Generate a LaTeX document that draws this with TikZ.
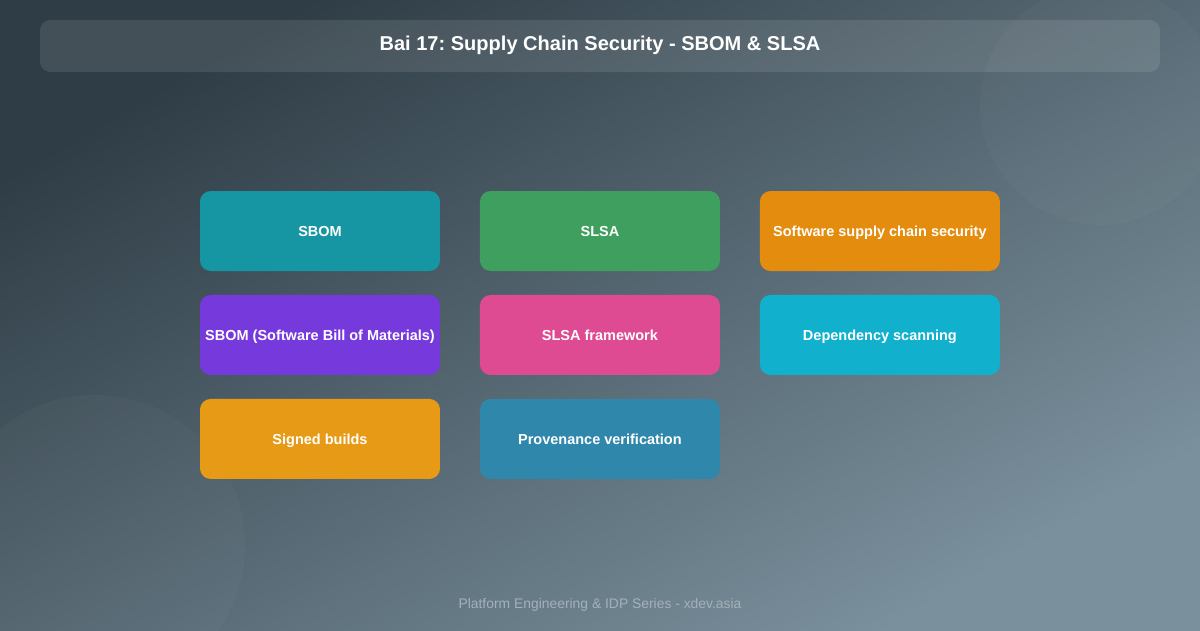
\documentclass[tikz,border=0pt]{standalone}
\usepackage{fontspec}
\setmainfont{Liberation Sans}
\frenchspacing
\usetikzlibrary{positioning}

\definecolor{bgdark}{HTML}{2F3D46}
\definecolor{bglight}{HTML}{7A909C}
\definecolor{cteal}{HTML}{1695A3}
\definecolor{cgreen}{HTML}{3F9F5F}
\definecolor{corange}{HTML}{E38C0E}
\definecolor{cpurple}{HTML}{7539DC}
\definecolor{cpink}{HTML}{DE4B92}
\definecolor{ccyan}{HTML}{11B0CD}
\definecolor{camber}{HTML}{E69A16}
\definecolor{cblue}{HTML}{2F87AB}
\definecolor{footgray}{HTML}{A3B1BA}

\begin{document}
\begin{tikzpicture}[
		x=0.02cm, y=-0.02cm,
		card/.style={
			rectangle,
			rounded corners=6pt,
			minimum width=4.8cm,
			minimum height=1.6cm,
			inner sep=1pt,
			outer sep=0pt,
			text height=0.75em,
			text depth=0.15em,
			align=center,
			text=white,
			font=\fontsize{8.25}{10}\selectfont\bfseries
		},
		blob/.style={fill=white, fill opacity=0.025}
		]
		
		% Background
		\useasboundingbox (0,0) rectangle (1200,630);
		\shade[top color=bgdark, bottom color=bglight, shading angle=30] (0,0) rectangle (1200,630);
		\fill[blob] (1100,105) circle (120);
		\fill[blob] (95,545) circle (150);
		
		% Title
		\fill[white, fill opacity=0.1, rounded corners=6pt] (40,20) rectangle (1160,72);
		\node[text=white, font=\fontsize{11.4}{13}\selectfont\bfseries] (title) at (600,45) {Bai 17: Supply Chain Security - SBOM \& SLSA};
		
		% Cards
		\node[card, fill=cteal] (sbom) at (320,231) {SBOM};
		\node[card, fill=cgreen, right=0.8cm of sbom] (slsa) {SLSA};
		\node[card, fill=corange, right=0.8cm of slsa] (supply) {Software supply chain security};
		
		\node[card, fill=cpurple, below=0.48cm of sbom] (bom) {SBOM (Software Bill of Materials)};
		\node[card, fill=cpink, below=0.48cm of slsa] (framework) {SLSA framework};
		\node[card, fill=ccyan, below=0.48cm of supply] (scan) {Dependency scanning};
		
		\node[card, fill=camber, below=0.48cm of bom] (signed) {Signed builds};
		\node[card, fill=cblue, below=0.48cm of framework] (provenance) {Provenance verification};
		
		% Footer
		\node[text=footgray, font=\fontsize{7.9}{9}\selectfont] (footer) at (600,605) {Platform Engineering \& IDP Series - xdev.asia};
		
	\end{tikzpicture}
\end{document}
